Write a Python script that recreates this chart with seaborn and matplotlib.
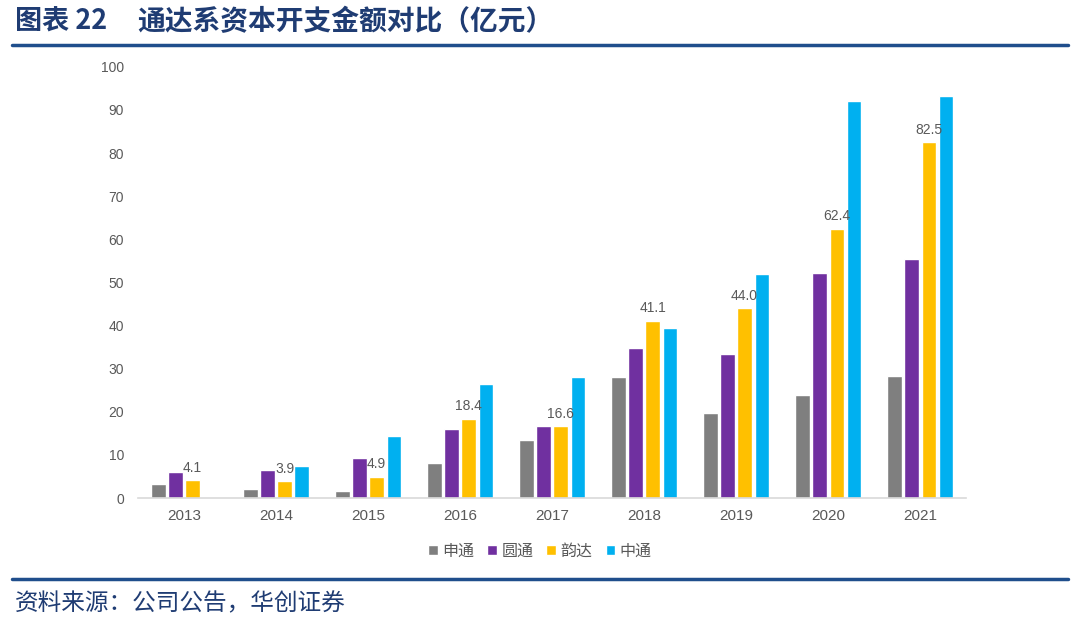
import pandas as pd
import numpy as np
import seaborn as sns
import matplotlib.pyplot as plt

# values (亿元)
years = ['2013', '2014', '2015', '2016', '2017', '2018', '2019', '2020', '2021']
shentong = [3.2, 2.2, 1.6, 8.2, 13.5, 28.1, 19.6, 23.8, 28.4]
yuantong = [6.0, 6.6, 9.3, 15.9, 16.8, 34.7, 33.4, 52.1, 55.4]
yunda = [4.1, 3.9, 4.9, 18.4, 16.6, 41.1, 44.0, 62.4, 82.5]
zhongtong = [np.nan, 7.4, 14.4, 26.5, 28.1, 39.5, 52.0, 92.0, 93.2]

companies = ['申通', '圆通', '韵达', '中通']
colors = ['#7F7F7F', '#7030A0', '#FFC000', '#00B0F0']

data = pd.DataFrame({'year': years, '申通': shentong, '圆通': yuantong,
                     '韵达': yunda, '中通': zhongtong})
data_long = data.melt(id_vars='year', var_name='company', value_name='capex')

sns.set_style('white')
plt.rcParams['font.family'] = ['Liberation Sans', 'Noto Sans CJK SC', 'DejaVu Sans']

fig = plt.figure(figsize=(10.8, 6.3), dpi=100)
ax = fig.add_axes([0.1278, 0.2095, 0.7667, 0.6845])

sns.barplot(data=data_long, x='year', y='capex', hue='company', hue_order=companies,
            palette=colors, width=0.74, gap=0.17, saturation=1, ax=ax)

# labels only on the 韵达 bars
ax.bar_label(ax.containers[2], fmt='%.1f', padding=4, fontsize=10, color='#595959')

ax.set_ylim(0, 100)
ax.set_yticks(range(0, 101, 10))
ax.set_xlabel('')
ax.set_ylabel('')
ax.tick_params(axis='both', length=0, labelsize=10, labelcolor='#595959')
ax.tick_params(axis='x', labelsize=11, pad=8)
ax.tick_params(axis='y', pad=10)
for side in ['top', 'right', 'left']:
    ax.spines[side].set_visible(False)
ax.spines['bottom'].set_color('#D9D9D9')
ax.spines['bottom'].set_linewidth(1.2)

handles, labels = ax.get_legend_handles_labels()
ax.get_legend().remove()
fig.legend(handles, labels, loc='center', bbox_to_anchor=(0.5, 1 - 551 / 630), ncol=4,
           frameon=False, handlelength=0.6, handleheight=0.6, handletextpad=0.3,
           columnspacing=0.8, prop={'family': ['Noto Sans CJK SC'], 'size': 11.5},
           labelcolor='#595959')

# header / footer
navy = '#1F3C73'
fig.text(0.014, 1 - 22 / 630, '图表 22', fontsize=19.5, fontweight='bold', color=navy,
         va='center', family=['Noto Sans CJK SC', 'DejaVu Sans'])
fig.text(0.127, 1 - 22 / 630, '通达系资本开支金额对比（亿元）', fontsize=20, fontweight='bold',
         color=navy, va='center', family=['Noto Sans CJK SC', 'DejaVu Sans'])
fig.add_artist(plt.Line2D([0.011, 0.989], [1 - 45 / 630, 1 - 45 / 630], color='#1F4E8C', lw=2.5))
fig.add_artist(plt.Line2D([0.011, 0.989], [1 - 579 / 630, 1 - 579 / 630], color='#1F4E8C', lw=2.5))
fig.text(0.014, 1 - 604 / 630, '资料来源：公司公告，华创证券', fontsize=17, color=navy,
         style='italic', va='center', family=['Noto Sans CJK SC', 'DejaVu Sans'])

plt.savefig('out.png', dpi=100)
